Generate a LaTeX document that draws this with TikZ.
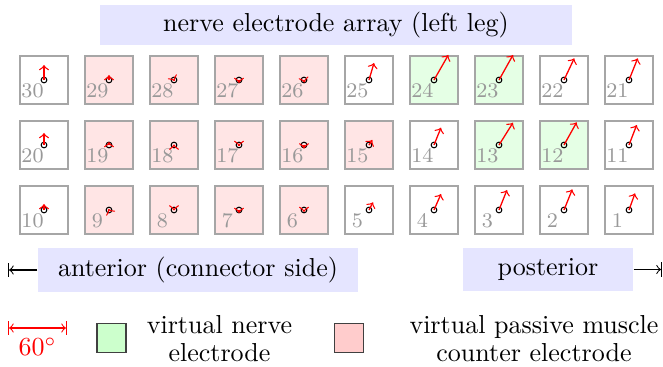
\documentclass[tikz,border=0pt]{standalone}
\usepackage{tikz}
\usetikzlibrary{arrows}

\begin{document}
\begin{tikzpicture}[x=0.3846pt,y=-0.3846pt]
\tikzset{cellbox/.style={draw=black!35,line width=0.5pt,minimum size=18.5pt,inner sep=0pt},
  cellnum/.style={text=black!40,font=\footnotesize,inner sep=0pt,anchor=base},
  centre/.style={draw,circle,line width=0.4pt,minimum size=2.2pt,inner sep=0pt},
  vec/.style={red,line width=0.5pt,->},
  banner/.style={fill=blue!10,inner sep=0pt},
  keybox/.style={draw=black!75,line width=0.5pt,minimum size=11.2pt,inner sep=0pt}}
\useasboundingbox (0,0) rectangle (663,367);
\node[banner,minimum width=181.5pt,minimum height=15.4pt] (title) at (336,25) {nerve electrode array (left leg)};
\foreach \n/\f/\dx/\dy in {30/white/0/-15, 29/red!10/0/-5, 28/red!10/0.5/1, 27/red!10/0/3,
  26/red!10/0.5/2.5, 25/white/5/-17, 24/green!10/14.3/-25, 23/green!10/14/-25,
  22/white/10.3/-21.7, 21/white/8.7/-21.7,
  20/white/0/-12, 19/red!10/0/-3, 18/red!10/0/-0.5, 17/red!10/0/1, 16/red!10/0/3.5,
  15/red!10/3.3/-5, 14/white/7/-17.3, 13/green!10/14/-22.3, 12/green!10/12.7/-22.7,
  11/white/7.7/-20,
  10/white/0/-6, 9/red!10/-0.5/-1, 8/red!10/0/0.5, 7/red!10/0/3, 6/red!10/0/2,
  5/white/4/-7.7, 4/white/7/-16, 3/white/8/-20, 2/white/8.3/-20.7, 1/white/6/-16.7}{
  \pgfmathsetmacro\cx{44+65*(9-mod(\n-1,10))}
  \pgfmathsetmacro\cy{80+65*(2-floor((\n-1)/10))}
  \node[cellbox,fill=\f] (e\n) at (\cx,\cy) {};
  \node[cellnum] (l\n) at (\cx-11.5,\cy+18) {\n};
  \node[centre] (c\n) at (\cx,\cy) {};
  \path (c\n.center) ++(\dx,\dy) coordinate (t\n);
  \draw[vec] (c\n.center) -- (t\n);
}
% sides
\node[banner,minimum width=123.1pt,minimum height=16.9pt] (ant) at (198,270) {anterior (connector side)};
\node[banner,minimum width=65.4pt,minimum height=16.5pt] (post) at (548,269.5) {posterior};
\coordinate (antend) at (8,270);
\coordinate (postend) at (662,269.5);
\draw[->|] (ant) -- (antend);
\draw[->|] (post) -- (postend);
% legend
\coordinate (s0) at (8,328);
\coordinate (s1) at (67,328);
\draw[red,line width=0.4pt,|<->|] (s0) -- (s1);
\node[red] (deg) at (37.5,347) {$60^\circ$};
\node[keybox,fill=green!20] (kn) at (111.5,338) {};
\node[align=center,anchor=base] (kntext) at (219.5,362) {virtual nerve\\[-1.2pt]electrode};
\node[keybox,fill=red!20] (kp) at (349,338) {};
\node[align=center,anchor=base] (kptext) at (534,362) {virtual passive muscle\\[-1.2pt]counter electrode};
\end{tikzpicture}
\end{document}
